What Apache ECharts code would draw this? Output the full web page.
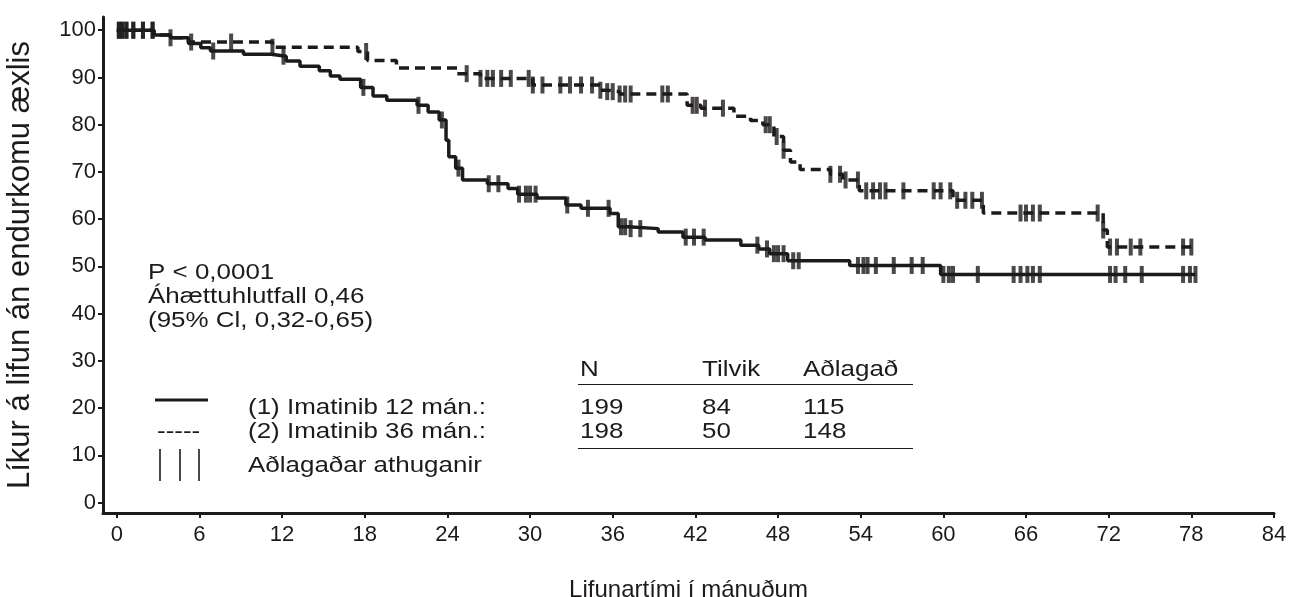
<!DOCTYPE html>
<html>
<head>
<meta charset="utf-8">
<script src="https://cdn.jsdelivr.net/npm/echarts@6/dist/echarts.min.js"></script>
<style>
html,body{margin:0;padding:0;background:#fff;overflow:hidden;}
#chart{width:1289px;height:597px;}
</style>
</head>
<body>
<div id="chart"></div>
<script>
// ---------- data ----------
const xTicks = [0, 6, 12, 18, 24, 30, 36, 42, 48, 54, 60, 66, 72, 78, 84];
const yTicks = [0, 10, 20, 30, 40, 50, 60, 70, 80, 90, 100];

// Arm 1: Imatinib 12 months (solid) - Kaplan-Meier step points
const arm1Times = [0, 2.7, 3.9, 5.2, 6.1, 6.8, 9.2, 11.2, 12.3, 13.3, 14.7, 15.5, 16.2, 17.7, 18.6, 19.6, 21.8, 22.6, 23.4, 23.9, 24.1, 24.6, 25.1, 26.9, 28.4, 29.1, 30.5, 32.6, 33.7, 35.8, 36.4, 37.1, 39.3, 41.1, 42.7, 45.3, 46.6, 47.4, 48.7, 53.2, 59.8, 78.3];
const arm1Surv  = [100, 99, 98.4, 97.2, 96.3, 95.6, 94.9, 94.5, 93.5, 92.4, 91.4, 90.3, 89.6, 87.9, 86.1, 85.2, 84.1, 82.7, 81, 76.7, 73.2, 70.8, 68.3, 67.5, 66.5, 65.3, 64.5, 63, 62.3, 61.2, 58.4, 58, 57.3, 56.2, 55.6, 54.5, 53.7, 52.7, 51.2, 50.2, 48.3, 48.3];
const arm1Censor = [0.15, 0.4, 0.7, 1.2, 1.9, 2.6, 3.9, 7.0, 12.1, 17.9, 21.9, 23.6, 24.8, 27.0, 27.7, 29.2, 29.7, 30.0, 30.4, 32.7, 34.2, 35.7, 36.6, 36.9, 37.3, 38.0, 41.3, 41.9, 42.6, 46.5, 47.2, 47.7, 48.0, 48.4, 49.1, 49.5, 53.8, 54.2, 54.5, 55.1, 56.4, 57.7, 58.5, 60.0, 60.4, 60.7, 62.5, 65.1, 65.6, 66.1, 66.5, 67.0, 72.1, 72.5, 73.2, 74.4, 77.4, 77.9, 78.3];

// Arm 2: Imatinib 36 months (dashed)
const arm2Times = [0, 2.7, 3.9, 5.2, 11.3, 17.5, 18.2, 20.3, 24.7, 26.4, 30.2, 35.1, 35.6, 36.5, 41.4, 42.4, 44.8, 46.0, 46.9, 47.7, 48.4, 48.9, 49.6, 51.8, 52.7, 53.9, 60.7, 62.9, 71.6, 71.9, 78.1];
const arm2Surv  = [100, 99, 98.4, 97.5, 96.4, 95.5, 93.6, 92, 90.8, 89.8, 88.4, 87.3, 87, 86.5, 84.1, 83.5, 81.8, 80.9, 80, 77.5, 74.6, 72.1, 70.5, 69.5, 68.3, 66, 64, 61.3, 57.7, 54.1, 54.1];
const arm2Censor = [0.15, 0.4, 0.7, 1.2, 1.9, 2.6, 5.4, 8.3, 11.3, 18.1, 25.4, 26.4, 26.9, 27.3, 27.9, 28.6, 29.9, 30.2, 30.9, 32.2, 32.9, 33.7, 34.5, 35.1, 35.6, 36.0, 36.5, 36.9, 37.3, 39.6, 40.0, 41.8, 42.1, 42.7, 44.0, 47.1, 47.4, 47.9, 48.4, 51.8, 52.5, 52.9, 53.8, 54.4, 54.9, 55.4, 55.8, 57.1, 59.3, 59.8, 60.5, 61.0, 61.6, 62.1, 62.8, 65.6, 66.0, 66.5, 67.0, 71.2, 71.6, 72.1, 72.6, 73.6, 74.3, 77.4, 78.0];

const statsLines = ['P < 0,0001', 'Áhættuhlutfall 0,46', '(95% Cl, 0,32-0,65)'];
const legendLabels = ['(1) Imatinib 12 mán.:', '(2) Imatinib 36 mán.:', 'Aðlagaðar athuganir'];
const tableHeader = ['N', 'Tilvik', 'Aðlagað'];
const tableRows = [['199', '84', '115'], ['198', '50', '148']];

const xTitle = 'Lifunartími í mánuðum';
const yTitle = 'Líkur á lifun án endurkomu æxlis';

// ---------- helpers ----------
function survAt(times, surv, t) {
  let v = surv[0];
  for (let i = 0; i < times.length; i++) { if (times[i] <= t) v = surv[i]; }
  return v;
}
const pairs = (a, b) => a.map((t, i) => [t, b[i]]);
const censorPts = (c, times, surv) => c.map(t => [t, survAt(times, surv, t)]);

const INK = '#1e1a1b';
const FONT = '"Liberation Sans", Arial, sans-serif';
const annFs = 22;
const annScaleX = 1.18;

function txt(text, x, y) {
  return { type: 'text', x: x, y: y, scaleX: annScaleX, scaleY: 1, originX: 0, originY: 0, silent: true,
    style: { text: text, font: annFs + 'px ' + FONT, fill: INK,
      align: 'left', verticalAlign: 'middle',
      textAlign: 'left', textVerticalAlign: 'middle' } };
}
function ln(x1, y1, x2, y2, w) {
  return { type: 'line', silent: true, shape: { x1, y1, x2, y2 },
    style: { stroke: INK, lineWidth: w || 1.5 } };
}

const graphics = [];
statsLines.forEach((s, i) => graphics.push(txt(s, 148, 273 + i * 24)));
legendLabels.forEach((s, i) => graphics.push(txt(s, 248, [408, 432, 466][i])));
graphics.push(ln(155, 400, 208, 400, 3));
graphics.push(txt('-----', 157, 432));
[160, 180, 199].forEach(x => graphics.push(ln(x, 449, x, 481, 1.6)));
const colX = [580, 702, 803];
tableHeader.forEach((s, i) => graphics.push(txt(s, colX[i], 370)));
graphics.push(ln(578, 384.5, 913, 384.5, 1.2));
tableRows.forEach((r, j) => r.forEach((s, i) => graphics.push(txt(s, colX[i], 408 + j * 24))));
graphics.push(ln(578, 448.5, 913, 448.5, 1.2));

const chart = echarts.init(document.getElementById('chart'), null, { renderer: 'canvas', width: 1289, height: 597 });
chart.setOption({
  animation: false,
  backgroundColor: '#fff',
  grid: { left: 103, right: 15, top: 17, bottom: 84, containLabel: false, outerBoundsMode: 'none' },
  xAxis: {
    type: 'value', min: -1, max: 84,
    name: xTitle, nameLocation: 'middle', nameGap: 65,
    nameTextStyle: { color: INK, fontSize: 24, fontFamily: FONT },
    axisLine: { show: true, onZero: false, lineStyle: { color: INK, width: 3 } },
    axisTick: { show: true, length: 5, customValues: xTicks, lineStyle: { color: INK, width: 2 } },
    axisLabel: { customValues: xTicks, color: INK, fontSize: 22, fontFamily: FONT, margin: 11 },
    splitLine: { show: false }
  },
  yAxis: {
    type: 'value', min: -2.2, max: 102.8,
    name: yTitle, nameLocation: 'middle', nameGap: 67, nameRotate: 90,
    nameTextStyle: { color: INK, fontSize: 31, fontFamily: FONT },
    axisLine: { show: true, onZero: false, lineStyle: { color: INK, width: 3 } },
    axisTick: { show: true, length: 5, customValues: yTicks, lineStyle: { color: INK, width: 2 } },
    axisLabel: { customValues: yTicks, color: INK, fontSize: 22, fontFamily: FONT, margin: 7 },
    splitLine: { show: false }
  },
  series: [
    { name: 'arm1', type: 'line', step: 'end', showSymbol: false, symbol: 'none',
      data: pairs(arm1Times, arm1Surv), lineStyle: { color: INK, width: 3.5 }, z: 3 },
    { name: 'arm2', type: 'line', step: 'end', showSymbol: false, symbol: 'none',
      data: pairs(arm2Times, arm2Surv), lineStyle: { color: INK, width: 3.5, type: [10, 6] }, z: 3 },
    { name: 'c1', type: 'scatter', symbol: 'rect', symbolSize: [4, 17],
      data: censorPts(arm1Censor, arm1Times, arm1Surv), itemStyle: { color: INK }, z: 4 },
    { name: 'c2', type: 'scatter', symbol: 'rect', symbolSize: [4, 17],
      data: censorPts(arm2Censor, arm2Times, arm2Surv), itemStyle: { color: INK }, z: 4 }
  ],
  graphic: { elements: graphics }
});
</script>
</body>
</html>
